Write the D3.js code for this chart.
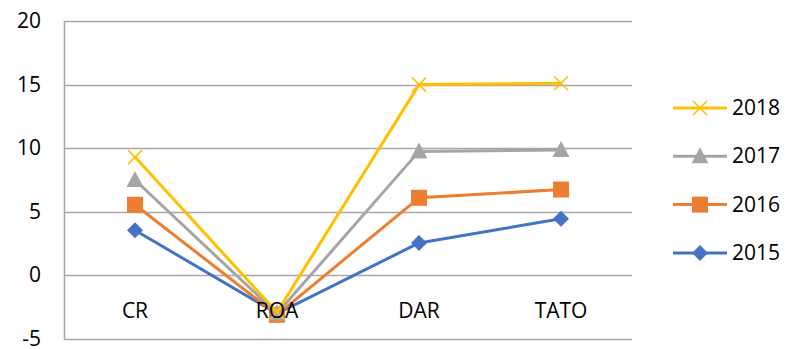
<!DOCTYPE html>
<html>
<head>
<meta charset="utf-8">
<script src="https://cdn.jsdelivr.net/npm/d3@7"></script>
<style>
  body { margin: 0; background: #fff; }
  text { font-family: "Open Sans", Carlito, Lato, sans-serif; fill: #000; }
</style>
</head>
<body>
<svg id="chart" width="787" height="349"></svg>
<script>
// data
var categories = ['CR', 'ROA', 'DAR', 'TATO'];
var years = ['2018', '2017', '2016', '2015'];
var v2018 = [9.3, -2.9, 15.0, 15.1];
var v2017 = [7.5, -3.0, 9.75, 9.85];
var v2016 = [5.55, -3.1, 6.1, 6.75];
var v2015 = [3.55, -3.0, 2.55, 4.45];
var yTicks = [-5, 0, 5, 10, 15, 20];

(function() {
  var series = [
    { name: years[0], values: v2018, color: '#FFC000', marker: 'cross' },
    { name: years[1], values: v2017, color: '#A5A5A5', marker: 'triangle' },
    { name: years[2], values: v2016, color: '#ED7D31', marker: 'square' },
    { name: years[3], values: v2015, color: '#4472C4', marker: 'diamond' }
  ];

  var plotLeft = 64, plotRight = 632, plotTop = 21, plotBottom = 339;
  var fontSize = '21px';

  var svg = d3.select('#chart');

  var x = d3.scaleBand().domain(categories).range([plotLeft, plotRight]).padding(0);
  var y = d3.scaleLinear().domain([-5, 20]).range([plotBottom, plotTop]);

  // gridlines
  svg.append('g')
    .selectAll('line')
    .data(yTicks)
    .enter().append('line')
    .attr('x1', plotLeft).attr('x2', plotRight)
    .attr('y1', function(d) { return Math.round(y(d)) + 0.5; })
    .attr('y2', function(d) { return Math.round(y(d)) + 0.5; })
    .attr('stroke', '#A6A6A6')
    .attr('stroke-width', 1.5);

  // y axis line
  svg.append('line')
    .attr('x1', plotLeft + 0.5).attr('x2', plotLeft + 0.5)
    .attr('y1', plotTop).attr('y2', plotBottom + 1)
    .attr('stroke', '#A6A6A6')
    .attr('stroke-width', 1.5);

  // y tick labels
  svg.append('g')
    .selectAll('text')
    .data(yTicks)
    .enter().append('text')
    .attr('x', 41)
    .attr('y', function(d) { return y(d); })
    .attr('dy', '0.33em')
    .attr('text-anchor', 'end')
    .style('font-size', fontSize)
    .text(function(d) { return d; });

  var cx = function(i) { return x(categories[i]) + x.bandwidth() / 2; };

  var line = d3.line()
    .x(function(d, i) { return cx(i); })
    .y(function(d) { return y(d); });

  var drawMarker = function(g, type, color, px, py) {
    if (type === 'cross') {
      g.append('path')
        .attr('d', 'M' + (px - 7) + ',' + (py - 7) + 'L' + (px + 7) + ',' + (py + 7) +
                   'M' + (px - 7) + ',' + (py + 7) + 'L' + (px + 7) + ',' + (py - 7))
        .attr('stroke', color).attr('stroke-width', 1.5).attr('fill', 'none');
    } else if (type === 'triangle') {
      g.append('path')
        .attr('d', 'M' + px + ',' + (py - 9) + 'L' + (px + 8.5) + ',' + (py + 7) + 'L' + (px - 8.5) + ',' + (py + 7) + 'Z')
        .attr('fill', color);
    } else if (type === 'square') {
      g.append('rect')
        .attr('x', px - 8).attr('y', py - 8)
        .attr('width', 16).attr('height', 16)
        .attr('fill', color);
    } else if (type === 'diamond') {
      g.append('path')
        .attr('d', 'M' + px + ',' + (py - 8) + 'L' + (px + 8) + ',' + py + 'L' + px + ',' + (py + 8) + 'L' + (px - 8) + ',' + py + 'Z')
        .attr('fill', color);
    }
  };

  // draw series back to front (2015 first so 2018 sits on top)
  series.slice().reverse().forEach(function(s) {
    var g = svg.append('g');
    g.append('path')
      .datum(s.values)
      .attr('d', line)
      .attr('fill', 'none')
      .attr('stroke', s.color)
      .attr('stroke-width', 3)
      .attr('stroke-linejoin', 'round');
    s.values.forEach(function(v, i) {
      drawMarker(g, s.marker, s.color, cx(i), y(v));
    });
  });

  // category labels sit just under the zero line, on top of the lines
  svg.append('g')
    .selectAll('text')
    .data(categories)
    .enter().append('text')
    .attr('x', function(d) { return x(d) + x.bandwidth() / 2; })
    .attr('y', y(0) + 36)
    .attr('dy', '0.33em')
    .attr('text-anchor', 'middle')
    .style('font-size', fontSize)
    .text(function(d) { return d; });

  // legend
  var legend = svg.append('g');
  series.forEach(function(s, i) {
    var ly = 108 + i * 48.3;
    var g = legend.append('g');
    g.append('line')
      .attr('x1', 673).attr('x2', 727)
      .attr('y1', ly).attr('y2', ly)
      .attr('stroke', s.color).attr('stroke-width', 3);
    drawMarker(g, s.marker, s.color, 700, ly);
    g.append('text')
      .attr('x', 732).attr('y', ly)
      .attr('dy', '0.33em')
      .style('font-size', fontSize)
      .text(s.name);
  });
})();
</script>
</body>
</html>
